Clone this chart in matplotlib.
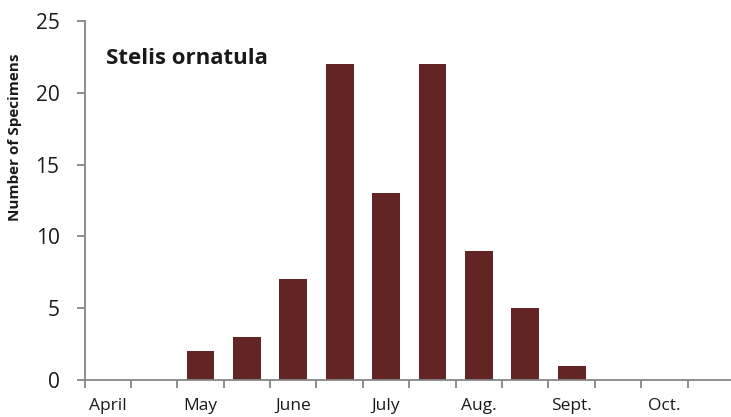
import matplotlib
matplotlib.use("Agg")
import matplotlib.pyplot as plt
import numpy as np

plt.rcParams['font.family'] = ['Open Sans', 'DejaVu Sans']

# Half-month periods from April to October
month_labels = ["April", "", "May", "", "June", "", "July", "", "Aug.", "", "Sept.", "", "Oct.", ""]
specimens = [0, 0, 2, 3, 7, 22, 13, 22, 9, 5, 1, 0, 0, 0]
yticks = [0, 5, 10, 15, 20, 25]
title = "Stelis ornatula"
ylabel = "Number of Specimens"

W, H = 731, 417
fig = plt.figure(figsize=(W / 100, H / 100), dpi=100)
left = 84.5 / W
bottom = (H - 380) / H
width = (734 - 84.5) / W
height = (380 - 21) / H
ax = fig.add_axes([left, bottom, width, height])

x = np.arange(len(specimens))
ax.bar(x, specimens, width=0.6, color="#632523", zorder=2)

ax.set_xlim(-0.5, len(specimens) - 0.5)
ax.set_ylim(0, 25)

spine_color = "#868686"
for s in ["top", "right"]:
    ax.spines[s].set_visible(False)
for s in ["left", "bottom"]:
    ax.spines[s].set_color(spine_color)
    ax.spines[s].set_linewidth(1.3)

# Major x ticks at boundaries (marks only), minor ticks at centres for labels
ax.set_xticks(np.arange(len(specimens) + 1) - 0.5)
ax.set_xticklabels([])
ax.tick_params(axis="x", which="major", direction="out", length=6, width=1.3, color=spine_color)
ax.set_xticks(x, minor=True)
ax.set_xticklabels(month_labels, minor=True, fontsize=12.5, color="#1a1a1a")
ax.tick_params(axis="x", which="minor", length=0, pad=13)

ax.set_yticks(yticks)
ax.set_yticklabels([str(v) for v in yticks], fontsize=15, color="#1a1a1a")
ax.tick_params(axis="y", direction="out", length=6, width=1.3, color=spine_color, pad=12)

ax.set_ylabel(ylabel, fontsize=11, fontweight="bold", color="#1a1a1a")
ax.yaxis.set_label_coords(-0.096, 0.677)
ax.text(-0.03, 22.4, title, fontsize=16, fontweight="bold", color="#1a1a1a",
        ha="left", va="center")

fig.savefig("out.png", dpi=100)
